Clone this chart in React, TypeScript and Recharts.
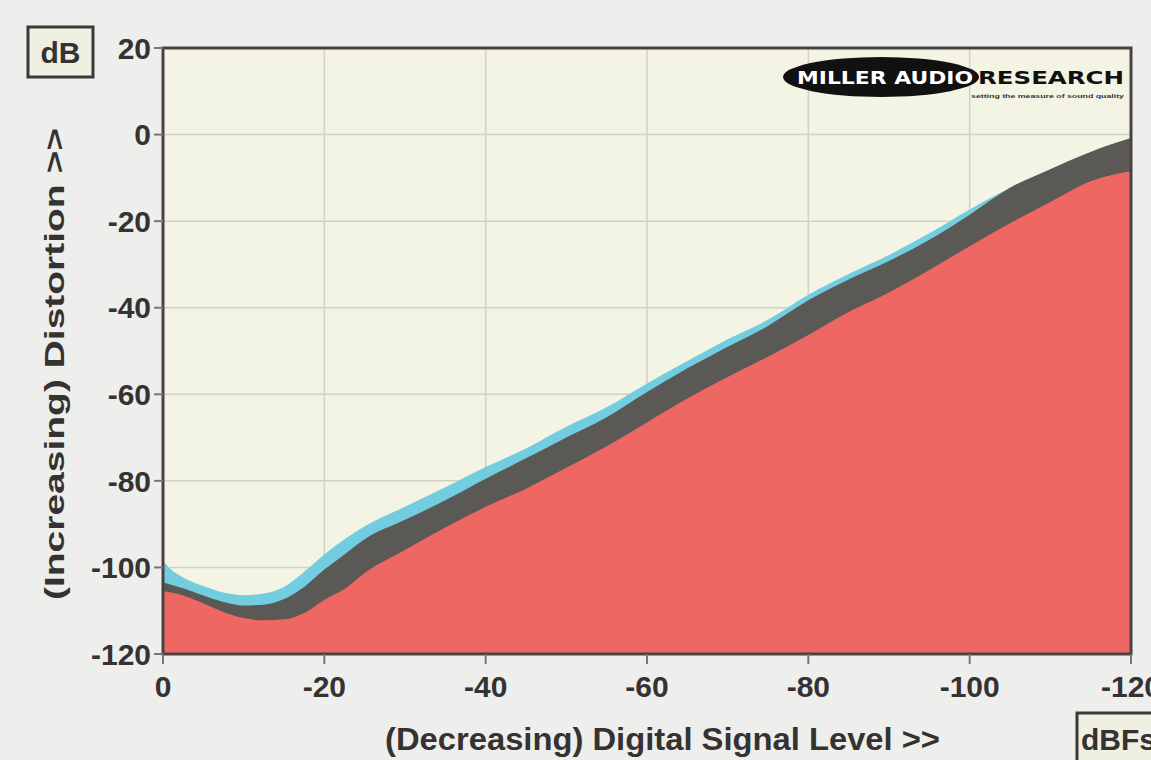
import {
  AreaChart,
  Area,
  XAxis,
  YAxis,
  CartesianGrid,
  ReferenceArea
} from 'recharts'

// signal level (dBFS), left = 0, right = -120
const levels = [
  0, -1, -2.5, -5, -7.5, -10, -12.5, -15, -17.5, -20, -22.5, -25, -30, -35, -40,
  -45, -50, -55, -60, -65, -70, -75, -80, -85, -90, -95, -100, -105, -110, -115, -120
]

// top of the cyan band
const cyanTop = [
  -98.5, -100.5, -102.3, -104.3, -105.8, -106.4, -106, -104.5, -101, -97, -93.5, -90.5, -86, -81.5, -76.8,
  -72.5, -67.5, -63, -57.5, -52.3, -47.3, -42.8, -37, -32.2, -27.8, -22.8, -17.3, -12.3, -8, -4, -0.8
]

// top of the dark grey band
const greyTop = [
  -103.5, -104, -104.8, -106.5, -108, -108.8, -108.6, -107.3, -104.5, -100.5, -97, -93.5, -89, -84.5, -79.5,
  -74.8, -70, -65.3, -59.5, -54, -49, -44.2, -38.3, -33.5, -29.2, -24.3, -18.5, -12.3, -8, -4, -0.8
]

// top of the red area
const redTop = [
  -105.5, -105.8, -106.5, -108.3, -110.3, -111.7, -112.2, -112, -110.5, -107.5, -105, -101.3, -96, -90.8, -86,
  -81.8, -77, -72, -66.5, -61, -56, -51.3, -46.3, -41, -36.5, -31.3, -25.8, -20.5, -15.6, -10.8, -8.5
]

const xTicks = [0, -20, -40, -60, -80, -100, -120]
const yTicks = [20, 0, -20, -40, -60, -80, -100, -120]

const data = levels.map((x, i) => ({
  x,
  cyan: cyanTop[i],
  grey: greyTop[i],
  red: redTop[i]
}))

const font = '"Liberation Sans", Arial, sans-serif'
const ink = '#353232'

const tickStyle = {
  fill: ink,
  fontSize: 30,
  fontWeight: 700,
  fontFamily: font
}

export default function App() {
  return (
    <div
      style={{
        position: 'fixed',
        left: 0,
        top: 0,
        width: 1151,
        height: 760,
        background: '#eeeeec',
        overflow: 'hidden'
      }}
    >
      <AreaChart
        width={1151}
        height={760}
        data={data}
        margin={{ top: 48, right: 20, bottom: 56, left: 0 }}
      >
        <CartesianGrid
          stroke="#d2d2c2"
          strokeWidth={1.5}
          fill="#f4f4e5"
          fillOpacity={1}
        />
        <XAxis
          dataKey="x"
          type="number"
          domain={[-120, 0]}
          reversed
          ticks={xTicks}
          interval={0}
          height={50}
          axisLine={false}
          tickLine={{ stroke: '#7a7575', strokeWidth: 2 }}
          tickSize={10}
          tickMargin={12}
          tick={tickStyle}
        />
        <YAxis
          type="number"
          domain={[-120, 20]}
          ticks={yTicks}
          interval={0}
          width={163}
          axisLine={false}
          tickLine={{ stroke: '#7a7575', strokeWidth: 2 }}
          tickSize={9}
          tickMargin={3}
          tick={tickStyle}
        />
        <Area
          type="monotone"
          dataKey="cyan"
          baseValue={-120}
          stroke="none"
          fill="#72cde0"
          fillOpacity={1}
          isAnimationActive={false}
        />
        <Area
          type="monotone"
          dataKey="grey"
          baseValue={-120}
          stroke="none"
          fill="#5a5955"
          fillOpacity={1}
          isAnimationActive={false}
        />
        <Area
          type="monotone"
          dataKey="red"
          baseValue={-120}
          stroke="none"
          fill="#ef6762"
          fillOpacity={1}
          isAnimationActive={false}
        />
        <ReferenceArea
          x1={-120}
          x2={0}
          y1={-120}
          y2={20}
          fill="none"
          stroke="#4a4242"
          strokeWidth={3}
          ifOverflow="visible"
        />
      </AreaChart>

      <svg
        width={1151}
        height={760}
        style={{ position: 'absolute', left: 0, top: 0, pointerEvents: 'none' }}
      >
        {/* unit boxes */}
        <rect x={28} y={27} width={65} height={50} fill="#efefe2" stroke="#3d3838" strokeWidth={3} />
        <text x={60.5} y={63} textAnchor="middle" fill={ink} fontSize={30} fontWeight={700} fontFamily={font}>
          dB
        </text>
        <rect x={1077} y={713} width={90} height={60} fill="#efefe2" stroke="#3d3838" strokeWidth={3} />
        <text x={1081} y={750} fill={ink} fontSize={30} fontWeight={700} fontFamily={font}>
          dBFs
        </text>

        {/* axis titles */}
        <text
          x={385}
          y={750}
          textLength={555}
          lengthAdjust="spacingAndGlyphs"
          fill={ink}
          fontSize={31}
          fontWeight={700}
          fontFamily={font}
        >
          (Decreasing) Digital Signal Level &gt;&gt;
        </text>
        <text
          transform="translate(64 600) rotate(-90)"
          textLength={472}
          lengthAdjust="spacingAndGlyphs"
          fill={ink}
          fontSize={27}
          fontWeight={700}
          fontFamily={font}
        >
          (Increasing) Distortion &gt;&gt;
        </text>

        {/* logo */}
        <ellipse cx={881} cy={77} rx={98} ry={20} fill="#111" />
        <text
          x={797}
          y={84}
          textLength={176}
          lengthAdjust="spacingAndGlyphs"
          fill="#fff"
          fontSize={17}
          fontWeight={900}
          fontFamily='"DejaVu Sans", sans-serif'
        >
          MILLER AUDIO
        </text>
        <text
          x={978}
          y={84}
          textLength={146}
          lengthAdjust="spacingAndGlyphs"
          fill="#111"
          fontSize={17}
          fontWeight={900}
          fontFamily='"DejaVu Sans", sans-serif'
        >
          RESEARCH
        </text>
        <text
          x={971}
          y={98}
          textLength={153}
          lengthAdjust="spacingAndGlyphs"
          fill="#333"
          fontSize={6}
          fontWeight={700}
          fontFamily={font}
        >
          setting the measure of sound quality
        </text>
      </svg>
    </div>
  )
}
